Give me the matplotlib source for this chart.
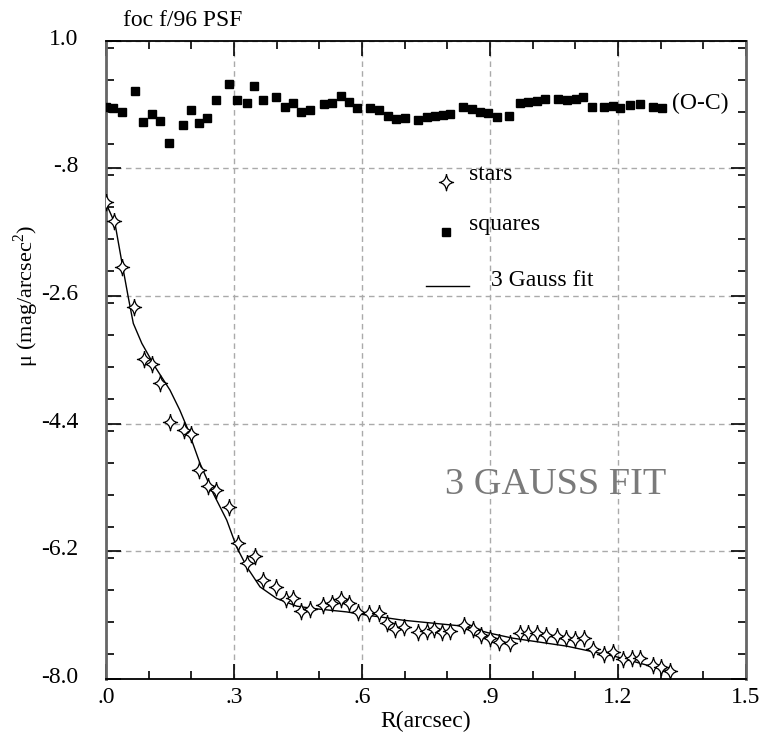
import matplotlib
matplotlib.use("Agg")
import matplotlib.pyplot as plt
from matplotlib.path import Path
from matplotlib.ticker import MultipleLocator, FixedLocator, FixedFormatter
from matplotlib.transforms import ScaledTranslation
import numpy as np

plt.rcParams['font.family'] = 'Liberation Serif'
plt.rcParams['mathtext.fontset'] = 'custom'
plt.rcParams['mathtext.rm'] = 'Liberation Serif'

# observed profile (stars)
star_r = [0.000, 0.019, 0.038, 0.066, 0.090, 0.108, 0.127, 0.150, 0.183, 0.199,
          0.218, 0.240, 0.258, 0.289, 0.309, 0.330, 0.349, 0.367, 0.398, 0.422,
          0.439, 0.457, 0.478, 0.509, 0.529, 0.551, 0.570, 0.590, 0.617, 0.641,
          0.659, 0.677, 0.699, 0.732, 0.752, 0.769, 0.787, 0.806, 0.840, 0.859,
          0.880, 0.900, 0.922, 0.948, 0.970, 0.990, 1.011, 1.031, 1.058, 1.078,
          1.099, 1.120, 1.141, 1.167, 1.189, 1.211, 1.232, 1.251, 1.281, 1.301,
          1.322]
star_mu = [-1.279, -1.539, -2.188, -2.752, -3.494, -3.560, -3.824, -4.374, -4.491, -4.547,
           -5.055, -5.276, -5.337, -5.573, -6.089, -6.363, -6.268, -6.606, -6.709, -6.879,
           -6.864, -7.039, -7.020, -6.959, -6.926, -6.874, -6.926, -7.053, -7.068, -7.068,
           -7.209, -7.288, -7.265, -7.336, -7.322, -7.302, -7.336, -7.326, -7.245, -7.302,
           -7.382, -7.415, -7.481, -7.491, -7.358, -7.358, -7.358, -7.386, -7.392, -7.415,
           -7.443, -7.415, -7.570, -7.650, -7.618, -7.711, -7.697, -7.697, -7.796, -7.829,
           -7.886]

# residuals (O-C), squares
sq_r = [0.000, 0.017, 0.037, 0.068, 0.087, 0.107, 0.127, 0.148, 0.180, 0.199,
        0.218, 0.237, 0.257, 0.288, 0.307, 0.330, 0.348, 0.367, 0.398, 0.420,
        0.438, 0.457, 0.478, 0.510, 0.529, 0.550, 0.570, 0.588, 0.619, 0.640,
        0.660, 0.680, 0.701, 0.732, 0.752, 0.771, 0.790, 0.806, 0.837, 0.857,
        0.876, 0.896, 0.916, 0.945, 0.970, 0.990, 1.009, 1.029, 1.060, 1.080,
        1.101, 1.118, 1.138, 1.167, 1.189, 1.204, 1.228, 1.251, 1.282, 1.302]
sq_mu = [0.069, 0.055, -0.010, 0.295, -0.151, -0.034, -0.128, -0.447, -0.193, 0.027,
         -0.161, -0.086, 0.164, 0.389, 0.164, 0.117, 0.365, 0.164, 0.210, 0.069,
         0.117, -0.010, 0.023, 0.103, 0.117, 0.220, 0.140, 0.055, 0.055, 0.023,
         -0.062, -0.109, -0.086, -0.118, -0.080, -0.062, -0.048, -0.034, 0.061, 0.032,
         -0.001, -0.016, -0.080, -0.062, 0.117, 0.140, 0.154, 0.173, 0.173, 0.164,
         0.173, 0.202, 0.061, 0.061, 0.079, 0.047, 0.093, 0.107, 0.069, 0.047]

# 3 Gauss fit
fit_r = [0.000, 0.021, 0.037, 0.052, 0.064, 0.084, 0.115, 0.150, 0.173, 0.191,
         0.220, 0.251, 0.283, 0.306, 0.330, 0.361, 0.400, 0.447, 0.486, 0.525,
         0.564, 0.611, 0.642, 0.696, 0.837, 0.900, 0.954, 1.080, 1.197, 1.326]
fit_mu = [-1.293, -1.575, -2.117, -2.611, -2.986, -3.268, -3.598, -3.927, -4.209, -4.467,
          -4.956, -5.379, -5.760, -6.137, -6.419, -6.701, -6.865, -6.973, -7.006, -7.030,
          -7.054, -7.100, -7.124, -7.171, -7.255, -7.355, -7.425, -7.537, -7.688, -7.900]

x_ticks = [0.0, 0.3, 0.6, 0.9, 1.2, 1.5]
x_labels = ['.0', '.3', '.6', '.9', '1.2', '1.5']
y_ticks = [-8.0, -6.2, -4.4, -2.6, -0.8, 1.0]
y_labels = ['-8.0', '-6.2', '-4.4', '-2.6', '-.8', '1.0']

FS = 17

# four-pointed star with concave sides
k = 0.1
star_verts = [(0, 1), (k, k), (0.85, 0), (k, -k), (0, -1), (-k, -k), (-0.85, 0), (-k, k), (0, 1)]
star_codes = [Path.MOVETO] + [Path.CURVE3] * 8
star = Path(star_verts, star_codes)

fig = plt.figure(figsize=(7.64, 7.36), dpi=100)
ax = fig.add_axes([106/764, 57/736, 640/764, 638.3/736])

ax.plot(fit_r, fit_mu, color='black', lw=1.0, zorder=3)
ax.plot(star_r, star_mu, ls='none', marker=star, ms=12, mfc='white', mec='black', mew=0.9, zorder=4)
ax.plot(sq_r, sq_mu, ls='none', marker='s', ms=6, mfc='black', mec='black', zorder=4)

ax.set_xlim(0, 1.5)
ax.set_ylim(-8.0, 1.0)
ax.xaxis.set_major_locator(FixedLocator(x_ticks))
ax.xaxis.set_major_formatter(FixedFormatter(x_labels))
ax.yaxis.set_major_locator(FixedLocator(y_ticks))
ax.yaxis.set_major_formatter(FixedFormatter(y_labels))
ax.xaxis.set_minor_locator(MultipleLocator(0.1))
ax.yaxis.set_minor_locator(MultipleLocator(0.45))
ax.tick_params(which='both', direction='in', top=True, right=True, labelsize=FS, width=1.2)
ax.tick_params(which='major', length=11)
ax.tick_params(which='minor', length=5.5)
ax.tick_params(axis='y', pad=20)
ax.tick_params(axis='x', pad=6)
# y tick labels sit a little above their ticks in the original
lift = ScaledTranslation(0, 3/72, fig.dpi_scale_trans)
for lab in ax.get_yticklabels():
    lab.set_transform(lab.get_transform() + lift)

ax.grid(True, which='major', color='#aaaaaa', ls=(0, (4, 3)), lw=1.0)
ax.set_axisbelow(True)
for side in ['left', 'right']:
    ax.spines[side].set_color('#666666')
    ax.spines[side].set_linewidth(2)
for side in ['top', 'bottom']:
    ax.spines[side].set_color('black')
    ax.spines[side].set_linewidth(1.3)

ax.set_xlabel('R(arcsec)', fontsize=FS, labelpad=2)
fig.text(26/764, 1 - 296/736, r'$\mathregular{\mu}$ (mag/arcsec$^2$)', fontsize=16,
         rotation=90, ha='center', va='center')
fig.text(123/764, 1 - 21/736, 'foc f/96 PSF', fontsize=FS, ha='left', va='center')

# legend drawn by hand
ax.plot([0.532], [0.779], transform=ax.transAxes, ls='none', marker=star, ms=12,
        mfc='white', mec='black', mew=0.9, clip_on=False)
ax.text(0.567, 0.790, 'stars', transform=ax.transAxes, fontsize=FS, va='center')
ax.plot([0.532], [0.701], transform=ax.transAxes, ls='none', marker='s', ms=6,
        color='black', clip_on=False)
ax.text(0.567, 0.712, 'squares', transform=ax.transAxes, fontsize=FS, va='center')
ax.plot([0.500, 0.567], [0.615, 0.615], transform=ax.transAxes, color='black', lw=1.0)
ax.text(0.601, 0.625, '3 Gauss fit', transform=ax.transAxes, fontsize=FS, va='center')

ax.text(0.884, 0.902, '(O-C)', transform=ax.transAxes, fontsize=FS, va='center')
ax.text(0.703, 0.304, '3 GAUSS FIT', transform=ax.transAxes, fontsize=27.5,
        color='#7a7a7a', ha='center', va='center')

fig.savefig('out.png', dpi=100)
